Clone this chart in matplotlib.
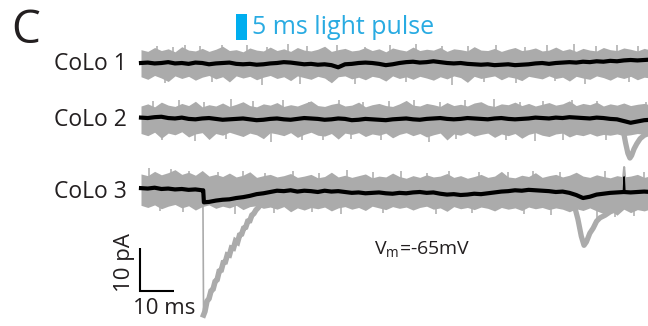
import numpy as np
import matplotlib.pyplot as plt

# sample times (ms) for the envelope / mean traces
t = np.arange(0, 151, 2)

# gray band (all sweeps), upper and lower edge in pA relative to each baseline
colo1_upper = [3.1, 2.7, 3.6, 2.9, 3.3, 2.6, 3.8, 3.0, 2.8, 3.4, 2.7, 3.2, 3.9, 2.9, 3.1, 2.6, 3.5, 3.0, 2.8, 3.7,
               2.9, 3.3, 2.7, 3.6, 3.0, 2.8, 3.2, 3.9, 2.7, 3.1, 3.4, 2.8, 3.0, 3.6, 2.9, 3.3, 2.6, 3.5, 3.1, 2.8,
               3.7, 2.9, 3.2, 3.0, 3.6, 2.7, 3.3, 3.1, 2.8, 3.8, 3.0, 2.9, 3.4, 2.7, 3.2, 3.6, 2.9, 3.1, 3.5, 2.8,
               3.0, 3.7, 2.9, 3.3, 2.7, 3.4, 3.0, 2.8, 3.6, 3.1, 2.9, 3.5, 3.2, 2.8, 3.4, 3.0]
colo1_lower = [-3.2, -3.8, -2.9, -3.5, -4.3, -3.0, -3.6, -3.1, -4.0, -3.3, -2.9, -3.7, -3.2, -4.4, -3.0, -3.5, -3.1, -3.9, -3.3, -2.9,
               -3.6, -3.2, -4.1, -3.0, -3.4, -3.8, -3.1, -3.5, -4.6, -3.2, -3.0, -3.7, -3.3, -3.9, -3.1, -3.4, -4.2, -3.0, -3.6, -3.2,
               -3.8, -3.1, -3.5, -4.0, -3.2, -3.7, -3.0, -3.4, -4.5, -3.1, -3.6, -3.3, -3.0, -3.9, -3.2, -3.5, -4.1, -3.1, -3.4, -3.7,
               -3.0, -3.6, -3.3, -4.2, -3.1, -3.5, -3.8, -3.0, -3.4, -4.0, -3.2, -3.6, -3.1, -3.9, -3.3, -3.5]
colo2_upper = [3.0, 3.5, 2.8, 3.9, 3.2, 2.9, 3.6, 3.1, 4.1, 2.8, 3.3, 3.0, 3.7, 2.9, 3.4, 4.0, 3.1, 2.8, 3.5, 3.2,
               3.8, 2.9, 3.3, 3.0, 3.6, 4.2, 3.1, 2.9, 3.4, 3.7, 3.0, 3.2, 3.9, 2.8, 3.3, 3.6, 3.1, 2.9, 3.5, 4.3,
               3.2, 3.0, 3.6, 3.3, 2.9, 3.8, 3.1, 3.4, 3.0, 3.7, 4.0, 3.2, 2.9, 3.5, 3.3, 3.9, 3.1, 3.6, 3.0, 3.4,
               3.8, 3.2, 3.5, 4.2, 3.1, 3.6, 3.3, 3.9, 3.0, 3.5, 3.2, 3.7, 3.1, 3.4, 3.6, 3.2]
colo2_lower = [-3.4, -3.9, -3.1, -4.5, -3.3, -3.7, -3.0, -4.2, -3.5, -3.2, -4.8, -3.4, -3.8, -3.1, -3.6, -4.1, -3.3, -3.7, -4.6, -3.2,
               -3.5, -3.9, -3.2, -4.3, -3.6, -3.1, -3.8, -4.0, -3.4, -4.7, -3.3, -3.6, -3.2, -4.1, -3.5, -3.8, -3.3, -4.4, -3.6, -3.2,
               -3.9, -3.4, -4.2, -3.7, -3.3, -4.9, -3.5, -3.8, -3.2, -4.0, -3.6, -3.3, -4.3, -3.5, -3.9, -3.4, -4.5, -3.6, -3.2, -3.8,
               -4.1, -3.5, -3.3, -4.2, -3.6, -3.9, -3.4, -4.0, -3.6, -3.8, -3.5, -3.9, -3.7, -3.4, -3.6, -3.5]
colo3_upper = [4.0, 3.6, 4.6, 3.8, 4.3, 5.0, 3.9, 4.4, 3.7, 4.8, 3.5, 3.9, 3.4, 4.2, 3.3, 3.7, 4.5, 3.2, 3.6, 3.9,
               3.3, 3.6, 4.1, 3.2, 3.5, 3.9, 3.1, 3.4, 4.4, 3.3, 3.7, 3.2, 3.6, 4.0, 3.1, 3.5, 3.3, 4.2, 3.4, 3.0,
               3.6, 3.2, 3.8, 3.3, 3.5, 4.1, 3.2, 3.6, 3.0, 3.4, 3.9, 3.2, 3.5, 4.6, 3.3, 3.1, 3.7, 3.4, 4.3, 3.2,
               3.6, 3.9, 3.3, 3.7, 4.4, 3.5, 3.2, 3.8, 3.4, 3.1, 3.6, 3.3, 3.5, 3.9, 3.2, 3.6]
colo3_lower = [-3.3, -3.8, -3.2, -4.1, -3.5, -3.1, -3.9, -3.4, -4.4, -3.6, -3.2, -4.0, -3.5, -3.9, -3.3, -4.3, -3.6, -3.4, -4.0, -3.7,
               -4.2, -3.6, -4.8, -3.9, -4.4, -3.8, -4.1, -3.7, -4.6, -3.9, -3.6, -4.2, -3.8, -4.5, -3.5, -3.9, -4.3, -3.6, -4.0, -3.7,
               -4.4, -3.8, -3.5, -4.2, -3.9, -4.7, -3.6, -4.1, -3.8, -4.3, -3.7, -4.0, -4.6, -3.8, -4.2, -3.9, -4.5, -3.7, -4.1, -3.8,
               -4.3, -3.9, -4.2, -4.8, -4.1, -4.5, -3.9, -4.6, -5.2, -4.4, -5.6, -4.2, -5.0, -4.3, -4.6, -4.1]

# prominent narrow noise peaks on the gray band (time ms, pA)
colo1_peak_t = [4.7, 9.4, 12.9, 17.4, 23.8, 31.2, 37.1, 43.2, 48.8, 57.5, 66.0, 73.3, 81.0, 88.6, 96.1, 104.4,
                112.8, 119.5, 127.3, 133.7, 139.9, 146.2, 7.1, 21.0, 35.5, 46.9, 55.2, 62.8, 77.9, 91.5, 101.0,
                110.2, 121.8, 130.6, 143.5]
colo1_peak_v = [4.0, 3.8, 4.2, 3.9, 4.3, 4.1, 3.7, 4.4, 3.9, 4.2, 3.8, 4.1, 4.4, 3.9, 4.0, 4.3,
                3.8, 4.1, 4.5, 3.9, 4.2, 4.0, -4.6, -4.4, -5.2, -4.8, -4.3, -4.9, -4.5, -5.0, -4.4,
                -4.7, -4.3, -4.8, -4.5]
colo2_peak_t = [3.5, 11.2, 18.6, 26.4, 33.0, 41.7, 49.5, 58.1, 65.4, 72.9, 80.3, 87.8, 95.2, 103.9, 111.6, 118.2,
                126.7, 134.1, 148.5, 6.3, 15.8, 24.9, 38.2, 47.4, 53.6, 61.9, 70.5, 84.6, 92.7, 107.3, 115.9,
                124.2, 136.8]
colo2_peak_v = [4.2, 4.4, 3.9, 4.6, 4.1, 4.3, 3.9, 4.5, 4.0, 4.2, 4.4, 3.9, 4.3, 4.6, 4.0, 4.2,
                4.4, 4.1, 3.9, -4.9, -5.1, -4.7, -5.3, -4.8, -5.0, -4.6, -4.9, -5.4, -4.7, -5.0, -5.2,
                -4.8, -4.9]
colo3_peak_t = [2.4, 8.8, 14.1, 22.7, 29.9, 36.4, 44.8, 52.3, 60.6, 68.1, 76.5, 84.2, 90.7, 99.4, 107.8, 115.3,
                123.1, 136.5, 147.9, 5.5, 12.3, 27.6, 39.1, 50.4, 58.7, 71.2, 86.9, 97.3, 112.5, 120.6, 134.2,
                139.3, 145.0]
colo3_peak_v = [5.4, 5.1, 4.8, 4.5, 4.7, 4.3, 4.6, 4.2, 4.9, 4.4, 4.6, 4.3, 4.8, 4.5, 4.4, 4.7,
                4.5, 4.6, 4.4, -4.6, -4.8, -5.2, -5.0, -4.9, -5.3, -5.0, -5.4, -5.1, -5.2, -5.5, -6.2,
                -6.0, -5.8]

# mean traces (pA relative to baseline)
colo1_mean = [0.0, 0.1, -0.1, 0.0, 0.2, -0.1,
              0.0, -0.2, 0.1, 0.0, -0.3, -0.1, 0.0, 0.1, -0.2, -0.3,
              -0.2, -0.4, -0.3, -0.1, 0.0, 0.2, 0.1, -0.1, -0.3, -0.2,
              -0.4, -0.3, -0.5, -1.0, -0.3, -0.2, 0.0, 0.1, 0.0, -0.2,
              -0.5, -0.3, 0.0, 0.2, 0.3, 0.1, 0.2, 0.4, 0.2, 0.0,
              -0.1, 0.0, -0.2, -0.3, -0.4, -0.3, -0.5, -0.4, -0.3, -0.5,
              -0.4, -0.3, -0.1, 0.0, -0.2, 0.0, 0.1, 0.2, 0.1, 0.3,
              0.2, 0.4, 0.3, 0.5, 0.4, 0.6, 0.7, 0.6, 0.7, 0.8]
colo2_mean = [0.3, 0.2, 0.4, 0.5, 0.2, 0.1,
              0.3, 0.0, -0.1, 0.1, 0.2, 0.0, -0.2, -0.1, 0.0, 0.1,
              -0.1, -0.3, -0.2, 0.0, 0.1, -0.1, -0.2, 0.0, 0.2, 0.1,
              0.0, -0.2, -0.1, 0.1, 0.0, -0.3, -0.2, 0.0, -0.1, -0.2,
              -0.3, -0.1, 0.0, 0.1, -0.1, -0.2, 0.0, 0.1, 0.2, 0.0,
              -0.1, 0.0, 0.2, 0.1, 0.0, -0.1, 0.1, 0.2, 0.0, -0.1,
              0.0, 0.1, 0.3, 0.2, 0.1, 0.3, 0.2, 0.4, 0.3, 0.2,
              0.1, 0.3, 0.2, 0.0, -0.1, -0.5, -0.9, -0.6, -0.3, -0.2]
colo3_mean = [0.7, 0.6, 0.8, 0.5, 0.6, 0.4, 0.5, 0.3, 0.4, 0.2,
              -2.5, -2.2, -2.0, -1.9, -1.6, -1.4, -1.1, -0.7, -0.5, -0.2,
              0.1, 0.0, 0.2, -0.1, 0.1, 0.0, -0.2, 0.1, -0.1, 0.0,
              -0.2, -0.4, -0.3, -0.5, -0.4, -0.3, -0.5, -0.6, -0.4, -0.5,
              -0.3, -0.2, -0.4, -0.3, -0.6, -0.8, -0.7, -0.9, -0.8, -0.6,
              -0.7, -0.5, -0.3, -0.1, 0.0, 0.2, 0.1, 0.3, 0.2, 0.1,
              0.0, -0.2, -0.1, -0.4, -0.9, -1.6, -1.3, -0.8, -0.6, -0.4,
              -0.3, -0.2, -0.3, -0.2, -0.1, -0.2]
# sharp step in CoLo 3 mean at light-evoked response
colo3_step_t = [18.3, 18.5]
colo3_step_v = [0.2, -2.6]
colo3_spike_t = [141.9, 142.1, 142.3]
colo3_spike_v = [-0.2, 3.3, -0.2]

# single sweeps with synaptic events
colo3_evt1_t = [18.2, 18.4, 18.8, 19.4, 20.0, 20.6, 21.2, 21.8, 22.4, 23.0, 23.6, 24.2, 24.8, 25.4, 26.0, 26.6, 27.2, 27.8,
                28.4, 29.0, 29.6, 30.2, 30.8, 31.4, 32.0, 32.6, 33.2, 33.8, 34.4, 35.0, 35.6, 36.4, 37.2, 38.0, 39.0, 40.0]
colo3_evt1_v = [0.0, -28.8, -28.0, -25.6, -25.0, -23.2, -22.8, -21.0, -20.6, -18.6, -18.4, -16.6, -16.5, -14.8, -14.9, -13.2,
                -13.3, -11.6, -11.9, -10.2, -10.0, -8.6, -8.4, -7.0, -6.9, -5.6, -5.2, -4.4, -3.9, -3.3, -2.8, -2.2, -1.8,
                -1.4, -1.0, -0.8]
colo3_evt2_t = [126.5, 127.5, 128.5, 129.5, 130.3, 131.0, 132.0, 133.0, 134.0, 135.0, 136.5, 138.0, 140.0, 142.0, 144.0, 146.0]
colo3_evt2_v = [-2.0, -3.5, -6.5, -10.5, -12.6, -11.8, -9.8, -8.6, -7.0, -6.2, -5.6, -4.8, -4.2, -3.6, -3.0, -2.5]
colo3_gspike_t = [141.8, 142.1, 142.4]
colo3_gspike_v = [3.0, 5.6, 3.0]
colo2_evt_t = [141.0, 141.8, 142.5, 143.2, 143.8, 144.3, 145.0, 145.8, 146.8, 148.0, 149.0, 150.0]
colo2_evt_v = [-1.0, -2.5, -5.5, -8.0, -9.1, -8.5, -7.0, -5.8, -4.6, -3.8, -3.5, -3.2]

labels = ['CoLo 1', 'CoLo 2', 'CoLo 3']

gray = '#ababab'
blue = '#29abe2'
dark = '#231f20'
font = ['Open Sans', 'DejaVu Sans']

fig = plt.figure(figsize=(6.48, 3.26), dpi=100)
ax = fig.add_axes([0, 0, 1, 1])
# 10 ms = 34 px, 10 pA = 43 px
ax.set_xlim(-141 / 3.4, (648 - 141) / 3.4)
ax.set_ylim(-(326 - 63) * 10 / 43, 63 * 10 / 43)
ax.axis('off')

offsets = [0.0, -13.0, -29.8]
uppers = [colo1_upper, colo2_upper, colo3_upper]
lowers = [colo1_lower, colo2_lower, colo3_lower]
means = [colo1_mean, colo2_mean, colo3_mean]
peaks = [(colo1_peak_t, colo1_peak_v), (colo2_peak_t, colo2_peak_v), (colo3_peak_t, colo3_peak_v)]

for off, up, lo, pk, lab in zip(offsets, uppers, lowers, peaks, labels):
    ax.fill_between(t, off + np.array(lo), off + np.array(up), color=gray, lw=0, zorder=1)
    ax.vlines(pk[0], off, off + np.array(pk[1]), color=gray, lw=1.1, zorder=1)
    ax.text(-4.1, off - 0.3, lab, ha='right', va='center', fontsize=16.5, color=dark, family=font)

# event sweeps
o2, o3 = offsets[1], offsets[2]
ax.plot(colo3_evt1_t[:3], o3 + np.array(colo3_evt1_v[:3]), color=gray, lw=1.2, zorder=2)
ax.plot(colo3_evt1_t[1:], o3 + np.array(colo3_evt1_v[1:]), color=gray, lw=4, zorder=2, solid_joinstyle='miter')
ax.plot(colo3_evt2_t, o3 + np.array(colo3_evt2_v), color=gray, lw=3.8, zorder=2)
ax.plot(colo3_gspike_t, o3 + np.array(colo3_gspike_v), color=gray, lw=1.5, zorder=2)
ax.plot(colo2_evt_t, o2 + np.array(colo2_evt_v), color=gray, lw=3.8, zorder=2)

# mean traces
ax.plot(t, offsets[0] + np.array(colo1_mean), color='black', lw=3, zorder=3)
ax.plot(t, offsets[1] + np.array(colo2_mean), color='black', lw=3, zorder=3)
t3 = np.concatenate([t[:10], colo3_step_t, t[10:]])
m3 = np.concatenate([colo3_mean[:10], colo3_step_v, colo3_mean[10:]])
ax.plot(t3, o3 + m3, color='black', lw=3, zorder=3)
ax.plot(colo3_spike_t, o3 + np.array(colo3_spike_v), color='black', lw=1.2, zorder=3)

# scale bars
sx, sy = -0.3, -53.0
ax.plot([sx, sx, sx + 10], [sy + 10, sy, sy], color='black', lw=1.5, solid_joinstyle='miter',
        solid_capstyle='butt', zorder=3)
ax.text(sx - 4.5, sy + 6.5, '10 pA', rotation=90, ha='center', va='center', fontsize=16, color=dark, family=font)
ax.text(sx + 7.2, sy - 4.0, '10 ms', ha='center', va='center', fontsize=16, color=dark, family=font)

ax.text(68.5, -43.4, r'V$_\mathregular{m}$=-65mV', ha='left', va='center', fontsize=14, color=dark, family=font)

# panel letter and light pulse legend
fig.text(0.017, 0.905, 'C', fontsize=33, color=dark, family=font, va='center', ha='left')
fig.patches.append(plt.Rectangle((236 / 648, 1 - 40 / 326), 11 / 648, 26 / 326, transform=fig.transFigure,
                                 color='#00aeef', lw=0))
fig.text(252 / 648, 1 - 28 / 326, '5 ms light pulse', fontsize=18, color=blue, family=font, va='center', ha='left')

fig.savefig('out.png', dpi=100)
